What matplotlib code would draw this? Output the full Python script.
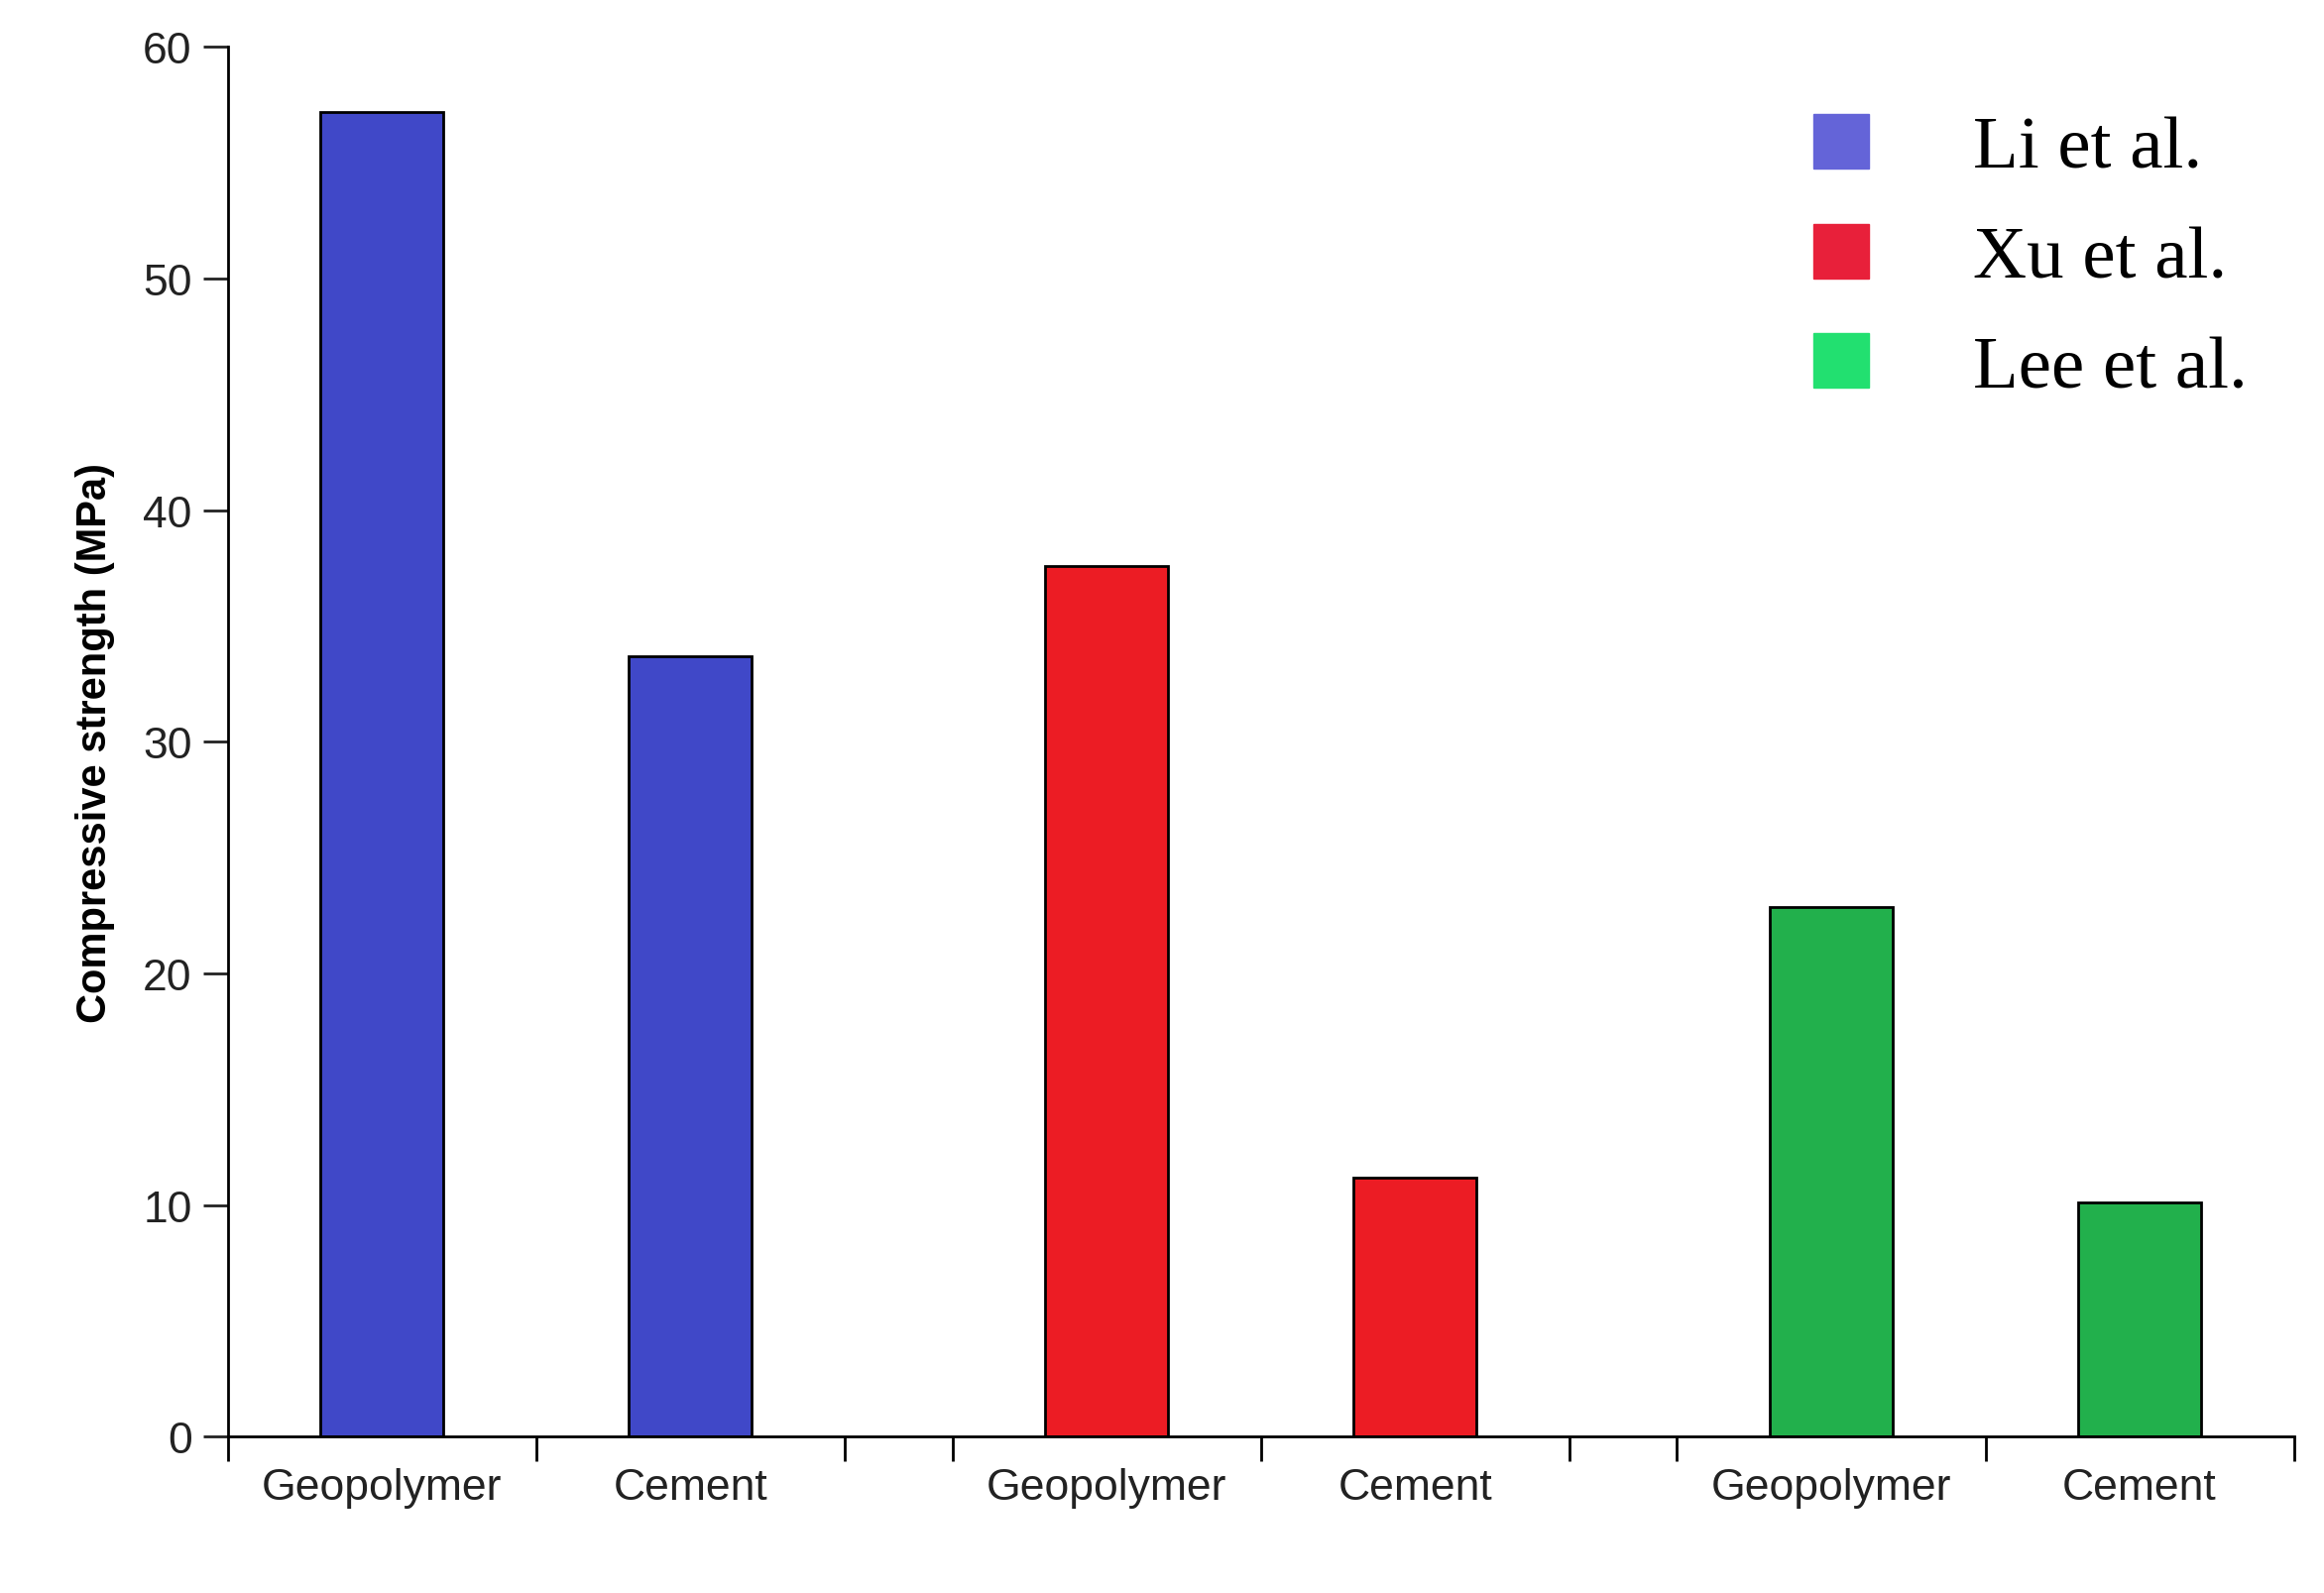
import numpy as np
import matplotlib.pyplot as plt
from matplotlib.patches import Patch

studies = ["Li et al.", "Xu et al.", "Lee et al."]
materials = ["Geopolymer", "Cement"]
strength = [[57.2, 33.7], [37.6, 11.2], [22.85, 10.1]]
bar_colors = ["#4048c8", "#ec1c24", "#22b04c"]
legend_colors = ["#6464d8", "#e8203a", "#22e070"]

gap = 0.35
fig = plt.figure(figsize=(23.44, 16.08), dpi=100)
ax = fig.add_axes([0.098, 0.098, 0.889, 0.872])

ticks = []
centers = []
labels = []
for i, vals in enumerate(strength):
    start = i * (2 + gap)
    ticks += [start, start + 1, start + 2]
    for j, v in enumerate(vals):
        c = start + j + 0.5
        centers.append(c)
        labels.append(materials[j])
        ax.bar(c, v, width=0.4, color=bar_colors[i], edgecolor="black", linewidth=2)

ax.set_xlim(0, 2 * (2 + gap) + 2)
ax.set_ylim(0, 60)
ax.set_xticks(ticks)
ax.set_xticklabels([])
ax.set_xticks(centers, minor=True)
ax.set_xticklabels(labels, minor=True)
ax.tick_params(axis="x", which="minor", length=0, pad=22, labelsize=32, colors="#222222")
ax.tick_params(axis="x", which="major", length=18, width=2)
ax.tick_params(axis="y", length=18, width=2, labelsize=32, pad=8, colors="#222222")
for lab in ax.get_xticklabels(minor=True) + ax.get_yticklabels():
    lab.set_family("Liberation Sans")
ax.spines["top"].set_visible(False)
ax.spines["right"].set_visible(False)
ax.spines["left"].set_linewidth(2)
ax.spines["bottom"].set_linewidth(2)
ax.set_ylabel("Compressive strength (MPa)", fontsize=30, fontweight="bold",
              family="Liberation Sans", labelpad=20)

handles = [Patch(color=c, label=s) for c, s in zip(legend_colors, studies)]
ax.legend(handles=handles, loc="upper right", frameon=False,
          prop={"family": "Liberation Serif", "size": 54},
          handlelength=0.75, handleheight=0.75, handletextpad=1.4,
          labelspacing=0.55, bbox_to_anchor=(1.01, 1.0))

fig.savefig("out.png", dpi=100)
